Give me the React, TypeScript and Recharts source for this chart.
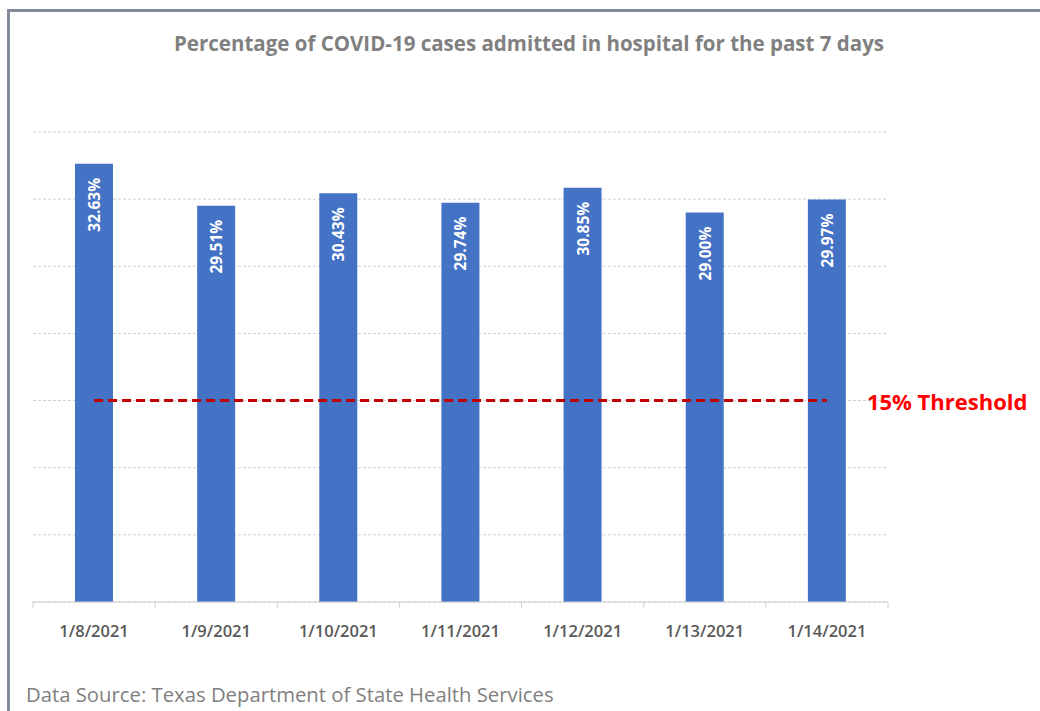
import { ComposedChart, Bar, Line, XAxis, YAxis, CartesianGrid, LabelList } from 'recharts';

const dates = ['1/8/2021', '1/9/2021', '1/10/2021', '1/11/2021', '1/12/2021', '1/13/2021', '1/14/2021'];
const admittedPct = [32.63, 29.51, 30.43, 29.74, 30.85, 29.0, 29.97];
const thresholdPct = 15;
const yTicks = [0, 5, 10, 15, 20, 25, 30, 35];

const W = 1040;
const H = 711;
const AXIS_H = 30;
const M = { top: 132, right: 152, bottom: 109 - AXIS_H, left: 33 };
const STEP = (W - M.left - M.right) / dates.length;

const chartData = dates.map((d, i) => ({
  date: d,
  pct: admittedPct[i],
  threshold: thresholdPct,
}));

const font = '"Open Sans", "DejaVu Sans", sans-serif';

function DateTick(props: any) {
  const { x, y, payload, index } = props;
  const base = y - 8;
  return (
    <g>
      <line x1={x - STEP / 2} x2={x - STEP / 2} y1={base} y2={base + 6} stroke="#d0d0d0" />
      {index === dates.length - 1 && (
        <line x1={x + STEP / 2} x2={x + STEP / 2} y1={base} y2={base + 6} stroke="#d0d0d0" />
      )}
      <text x={x} y={base + 35} textAnchor="middle" fill="#595959" fontSize={16.5} fontWeight={600} fontFamily={font}>
        {payload.value}
      </text>
    </g>
  );
}

function BarValue(props: any) {
  const { x, y, width, value } = props;
  const cx = x + width / 2;
  const ty = y + 14;
  return (
    <text
      x={cx}
      y={ty}
      transform={`rotate(-90 ${cx} ${ty})`}
      textAnchor="end"
      dominantBaseline="central"
      fill="#ffffff"
      fontSize={15.5}
      fontWeight={700}
      fontFamily={font}
    >
      {`${Number(value).toFixed(2)}%`}
    </text>
  );
}

function ThresholdLabel(props: any) {
  const { x, y, index } = props;
  if (index !== dates.length - 1) return null;
  return (
    <text x={x + 40} y={y} dominantBaseline="central" fill="#ff0000" fontSize={22} fontWeight={700} fontFamily={font}>
      {`${thresholdPct}% Threshold`}
    </text>
  );
}

export default function App() {
  return (
    <div style={{ position: 'absolute', left: 0, top: 0, width: W, height: H, overflow: 'hidden', background: '#fff' }}>
      <div
        style={{
          position: 'absolute',
          left: 7,
          top: 9,
          width: 1200,
          height: 900,
          border: '3px solid #838c9c',
        }}
      />
      <div
        style={{
          position: 'absolute',
          left: 0,
          width: W - 118,
          top: 29,
          textAlign: 'center',
          fontFamily: font,
          fontWeight: 700,
          fontSize: 20.5,
          color: '#808080',
          paddingLeft: 136,
          boxSizing: 'border-box',
          whiteSpace: 'nowrap',
        }}
      >
        Percentage of COVID-19 cases admitted in hospital for the past 7 days
      </div>
      <div style={{ position: 'absolute', left: 0, top: 0 }}>
        <ComposedChart width={W} height={H} data={chartData} margin={M}>
          <CartesianGrid vertical={false} stroke="#cfcfcf" strokeDasharray="3 2" />
          <YAxis hide domain={[0, 35]} ticks={yTicks} />
          <XAxis
            dataKey="date"
            height={AXIS_H}
            axisLine={{ stroke: '#d0d0d0' }}
            tickLine={false}
            tick={<DateTick />}
            interval={0}
          />
          <Bar dataKey="pct" fill="#4472c4" barSize={38} isAnimationActive={false}>
            <LabelList dataKey="pct" content={<BarValue />} />
          </Bar>
          <Line
            dataKey="threshold"
            stroke="#c00000"
            strokeWidth={3}
            strokeDasharray="9 5"
            dot={false}
            activeDot={false}
            isAnimationActive={false}
          >
            <LabelList dataKey="threshold" content={<ThresholdLabel />} />
          </Line>
        </ComposedChart>
      </div>
      <div
        style={{
          position: 'absolute',
          left: 26,
          top: 680,
          fontFamily: font,
          fontSize: 20.3,
          color: '#7f7f7f',
          whiteSpace: 'nowrap',
        }}
      >
        Data Source: Texas Department of State Health Services
      </div>
    </div>
  );
}
